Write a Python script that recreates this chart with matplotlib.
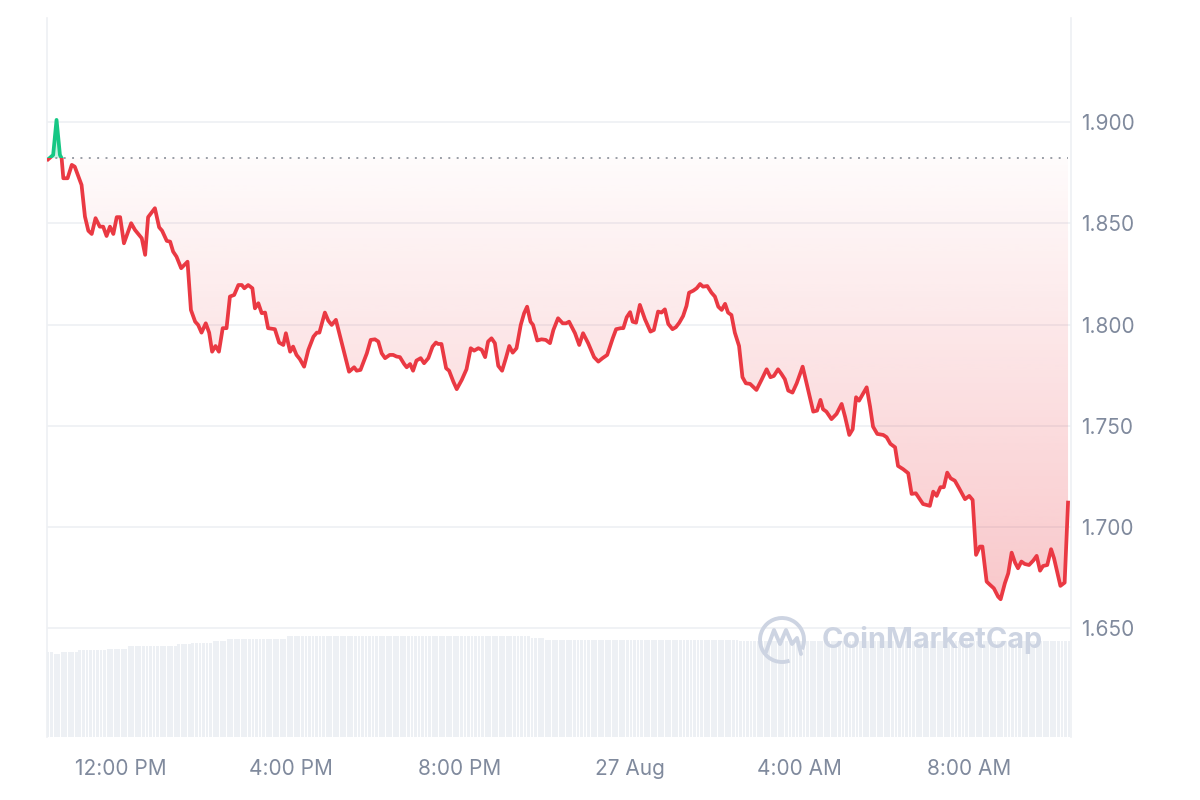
import numpy as np
import matplotlib.pyplot as plt
from matplotlib.colors import to_rgb
from matplotlib.patches import Rectangle, Arc
from matplotlib.path import Path
from matplotlib.ticker import FormatStrFormatter

plt.rcParams["font.family"] = ["Inter", "DejaVu Sans"]

# price, hours counted from 12:00 PM (26 Aug)
hours = [
    -1.72, -1.60, -1.52, -1.44, -1.40, -1.36, -1.26, -1.16, -1.09, -0.93,
    -0.85, -0.77, -0.69, -0.60, -0.50, -0.42, -0.34, -0.26, -0.18, -0.10,
    -0.02, 0.07, 0.24, 0.33, 0.49, 0.57, 0.64, 0.80, 0.90, 0.97,
    1.08, 1.16, 1.23, 1.31, 1.42, 1.57, 1.65, 1.75, 1.82, 1.90,
    2.00, 2.08, 2.15, 2.23, 2.31, 2.40, 2.49, 2.57, 2.67, 2.77,
    2.85, 2.91, 3.00, 3.10,
    3.16, 3.24, 3.32, 3.40, 3.47, 3.63, 3.73, 3.83, 3.89, 3.99,
    4.06, 4.14, 4.22, 4.32, 4.42, 4.54, 4.62, 4.68, 4.81, 4.89,
    4.97, 5.07, 5.17, 5.28, 5.38, 5.50, 5.56, 5.65, 5.80, 5.89,
    5.99, 6.07, 6.15, 6.23, 6.34, 6.42, 6.50, 6.58, 6.68, 6.74,
    6.82, 6.89, 6.97, 7.07, 7.15, 7.25, 7.35, 7.43, 7.48, 7.56,
    7.67, 7.74, 7.84, 7.92,
    8.04, 8.15, 8.25, 8.33, 8.43, 8.51, 8.59, 8.66, 8.74, 8.82,
    8.90, 8.99, 9.08, 9.16, 9.24, 9.33, 9.43, 9.51, 9.58, 9.66,
    9.72, 9.82, 9.92, 10.02, 10.12, 10.20, 10.31, 10.42, 10.50, 10.57,
    10.71, 10.81, 10.90, 11.02, 11.16, 11.26, 11.36, 11.47, 11.60, 11.68,
    11.79, 11.85, 11.93, 12.01, 12.07, 12.15, 12.24, 12.36, 12.49, 12.57,
    12.67, 12.75, 12.83, 12.91, 13.01, 13.09, 13.17, 13.26, 13.34, 13.40,
    13.50, 13.58, 13.66, 13.73, 13.83, 13.93, 14.01, 14.09, 14.17, 14.25,
    14.32, 14.40, 14.48, 14.58, 14.66, 14.74, 14.84, 14.99, 15.11, 15.23,
    15.32, 15.40, 15.50, 15.58, 15.66, 15.74, 15.84, 15.94, 16.08, 16.21,
    16.33, 16.42, 16.50, 16.56, 16.64, 16.76, 16.88, 17.00, 17.08, 17.18,
    17.26,
    17.34, 17.41, 17.59, 17.67, 17.74, 17.84, 17.98, 18.06, 18.15, 18.26,
    18.33, 18.45, 18.57, 18.65, 18.75, 18.92, 19.08, 19.16, 19.24, 19.33,
    19.41, 19.49, 19.57, 19.67, 19.77, 19.91, 20.01, 20.09, 20.17, 20.26,
    20.32, 20.42, 20.50, 20.59, 20.69, 20.75, 20.85, 20.93, 21.01, 21.09,
    21.16, 21.24, 21.32, 21.42, 21.52, 21.60, 21.68, 21.75, 21.85, 21.94,
    22.01, 22.16, 22.26, 22.34,
]
price = [
    1.8815, 1.8837, 1.9010, 1.8837, 1.8821, 1.8722, 1.8722, 1.8788, 1.8779, 1.8689,
    1.8533, 1.8463, 1.8447, 1.8525, 1.8483, 1.8483, 1.8437, 1.8483, 1.8447, 1.8530,
    1.8530, 1.8401, 1.8500, 1.8467, 1.8426, 1.8344, 1.8530, 1.8574, 1.8480, 1.8463,
    1.8413, 1.8409, 1.8360, 1.8335, 1.8278, 1.8310, 1.8072, 1.8014, 1.7998, 1.7960,
    1.8006, 1.7960, 1.7866, 1.7894, 1.7866, 1.7982, 1.7982, 1.8138, 1.8146, 1.8195,
    1.8195, 1.8179, 1.8195, 1.8179,
    1.8080, 1.8105, 1.8056, 1.8059, 1.7982, 1.7977, 1.7911, 1.7899, 1.7957, 1.7866,
    1.7891, 1.7850, 1.7829, 1.7792, 1.7875, 1.7940, 1.7960, 1.7960, 1.8059, 1.8019,
    1.7998, 1.8023, 1.7940, 1.7850, 1.7767, 1.7789, 1.7772, 1.7776, 1.7858, 1.7924,
    1.7927, 1.7916, 1.7858, 1.7834, 1.7850, 1.7850, 1.7842, 1.7839, 1.7805, 1.7789,
    1.7805, 1.7772, 1.7822, 1.7834, 1.7809, 1.7834, 1.7891, 1.7911, 1.7904, 1.7904,
    1.7784, 1.7772, 1.7718, 1.7681,
    1.7727, 1.7779, 1.7883, 1.7871, 1.7883, 1.7875, 1.7839, 1.7916, 1.7932, 1.7908,
    1.7796, 1.7772, 1.7834, 1.7894, 1.7861, 1.7883, 1.7998, 1.8056, 1.8088, 1.8014,
    1.7998, 1.7921, 1.7927, 1.7924, 1.7908, 1.7973, 1.8031, 1.8006, 1.8006, 1.8014,
    1.7957, 1.7899, 1.7957, 1.7908, 1.7839, 1.7817, 1.7834, 1.7850, 1.7932, 1.7977,
    1.7982, 1.7982, 1.8036, 1.8061, 1.8014, 1.8009, 1.8097, 1.8026, 1.7965, 1.7973,
    1.8064, 1.8059, 1.8075, 1.8003, 1.7977, 1.7987, 1.8009, 1.8042, 1.8092, 1.8157,
    1.8167, 1.8179, 1.8200, 1.8187, 1.8190, 1.8157, 1.8138, 1.8088, 1.8072, 1.8102,
    1.8059, 1.8047, 1.7960, 1.7894, 1.7740, 1.7710, 1.7707, 1.7677, 1.7727, 1.7779,
    1.7740, 1.7746, 1.7779, 1.7756, 1.7730, 1.7674, 1.7664, 1.7710, 1.7792, 1.7677,
    1.7570, 1.7575, 1.7628, 1.7582, 1.7570, 1.7533, 1.7559, 1.7608, 1.7545, 1.7455,
    1.7483,
    1.7641, 1.7624, 1.7690, 1.7595, 1.7496, 1.7460, 1.7455, 1.7444, 1.7411, 1.7394,
    1.7302, 1.7286, 1.7266, 1.7164, 1.7167, 1.7114, 1.7105, 1.7175, 1.7154, 1.7197,
    1.7197, 1.7269, 1.7241, 1.7229, 1.7192, 1.7138, 1.7154, 1.7134, 1.6863, 1.6904,
    1.6904, 1.6731, 1.6715, 1.6698, 1.6657, 1.6644, 1.6723, 1.6772, 1.6874, 1.6825,
    1.6797, 1.6830, 1.6818, 1.6813, 1.6835, 1.6858, 1.6785, 1.6808, 1.6813, 1.6891,
    1.6846, 1.6710, 1.6726, 1.7121,
]
open_price = 1.882

# volume bars every 5 minutes (relative height), as runs of equal level
vol_levels = [85, 83, 85, 87, 88, 91, 93, 94, 96, 98, 101, 99, 97, 96]
vol_counts = [2, 2, 5, 8, 6, 14, 4, 6, 4, 17, 69, 4, 55, 95]
vol_start = -1.72

tick_hours = [0, 4, 8, 12, 16, 20]
tick_labels = ["12:00 PM", "4:00 PM", "8:00 PM", "27 Aug", "4:00 AM", "8:00 AM"]
y_ticks = [1.65, 1.70, 1.75, 1.80, 1.85, 1.90]

RED = "#ea3943"
GREEN = "#16c784"
GRID = "#eef0f3"
LABEL = "#808a9d"

t = np.array(hours)
p = np.array(price)
xmin, xmax = -1.745, 22.41
ymin, ymax = 1.5964, 1.9513

fig = plt.figure(figsize=(12, 8), dpi=100)
rect = [47 / 1200, 63 / 800, 1024 / 1200, 719 / 800]

# volume in its own axes behind the price
axv = fig.add_axes(rect, zorder=0)
vol = np.repeat(vol_levels, vol_counts)
vt = vol_start + np.arange(len(vol)) / 12
axv.bar(vt, vol, width=0.8 / 12, color="#edf0f4", linewidth=0)
axv.set_xlim(xmin, xmax)
axv.set_ylim(0, 719)
axv.axis("off")

ax = fig.add_axes(rect, zorder=1)
ax.patch.set_visible(False)


def gradient_fill(where, color, a_far, a_near, lo, hi, far_at_bottom):
    poly = ax.fill_between(t, p, open_price, where=where, interpolate=True,
                           color="none", linewidth=0)
    alpha = np.linspace(0, 1, 256).reshape(-1, 1)
    if far_at_bottom:
        alpha = a_far + (a_near - a_far) * alpha
    else:
        alpha = a_near + (a_far - a_near) * alpha
    img = np.zeros((256, 1, 4))
    img[..., :3] = to_rgb(color)
    img[..., 3] = alpha
    im = ax.imshow(img, extent=[xmin, xmax, lo, hi], origin="lower",
                   aspect="auto", interpolation="bilinear", zorder=1)
    path = Path.make_compound_path(*poly.get_paths())
    im.set_clip_path(path, transform=ax.transData)


gradient_fill(p <= open_price, RED, 0.28, 0.02, p.min(), open_price, True)
gradient_fill(p >= open_price, GREEN, 0.35, 0.2, open_price, p.max(), False)

red_line, = ax.plot(t, p, color=RED, lw=2.7, zorder=3, solid_joinstyle="round")
red_line.set_clip_path(Rectangle((xmin, ymin), xmax - xmin, open_price - ymin,
                                 transform=ax.transData))
green_line, = ax.plot(t, p, color=GREEN, lw=2.7, zorder=3, solid_joinstyle="round")
green_line.set_clip_path(Rectangle((xmin, open_price), xmax - xmin, ymax - open_price,
                                   transform=ax.transData))

ax.axhline(open_price, color="#9a9ea6", lw=1.4, ls=(0, (1, 3.3)), zorder=2,
           xmax=0.997)

ax.set_xlim(xmin, xmax)
ax.set_ylim(ymin, ymax)
ax.set_xticks(tick_hours)
ax.set_xticklabels(tick_labels)
ax.set_yticks(y_ticks)
ax.yaxis.set_major_formatter(FormatStrFormatter("%.3f"))
ax.yaxis.tick_right()
ax.tick_params(axis="both", length=0, labelsize=15, labelcolor=LABEL)
ax.tick_params(axis="y", pad=7)
ax.tick_params(axis="x", pad=16)
ax.grid(axis="y", color=GRID, lw=1.2)
ax.set_axisbelow(True)
for s in ["top", "bottom"]:
    ax.spines[s].set_visible(False)
for s in ["left", "right"]:
    ax.spines[s].set_color(GRID)
    ax.spines[s].set_linewidth(1.2)

# watermark
WM = "#cdd4e2"
fig.patches.append(Arc((7.82, 1.60), 0.44, 0.44, theta1=-25, theta2=290,
                       lw=2.8, color=WM, transform=fig.dpi_scale_trans,
                       figure=fig))
mx = [7.66, 7.74, 7.80, 7.86, 7.92, 7.97, 8.01]
my = [1.48, 1.70, 1.56, 1.70, 1.56, 1.62, 1.46]
fig.lines.append(plt.Line2D(mx, my, color=WM, lw=2.8, transform=fig.dpi_scale_trans,
                            solid_capstyle="round", solid_joinstyle="round",
                            figure=fig))
fig.text(822 / 1200, 1 - 640 / 800, "CoinMarketCap", color=WM, fontsize=20.8,
         fontweight="bold", ha="left", va="center")

fig.savefig("out.png", dpi=100)
